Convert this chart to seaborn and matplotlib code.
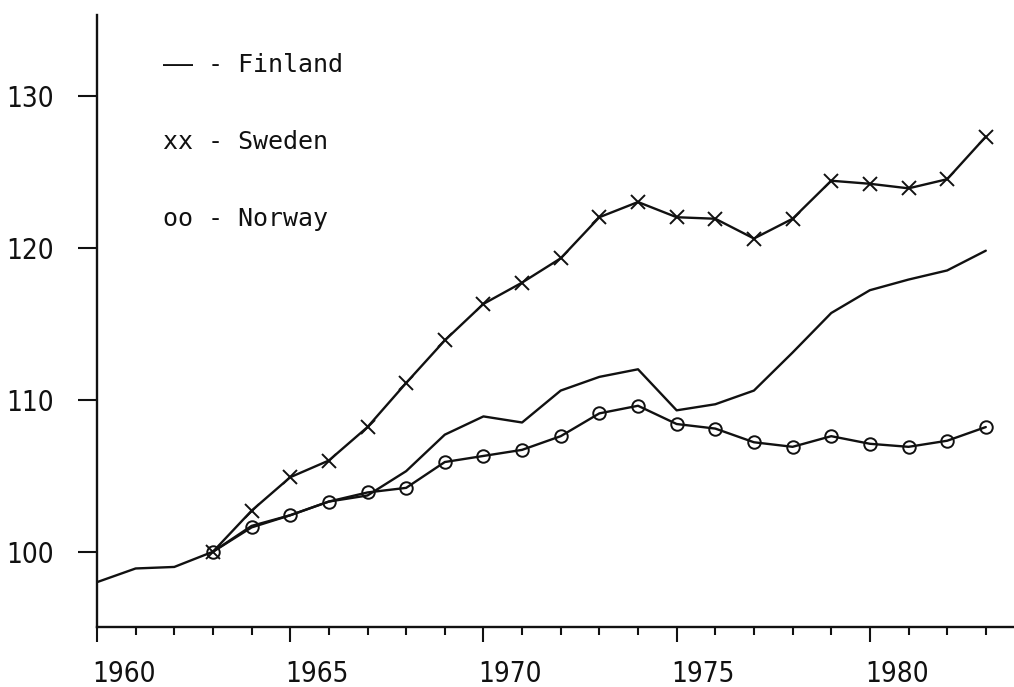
import numpy as np
import pandas as pd
import matplotlib
matplotlib.use("Agg")
import matplotlib.pyplot as plt
import matplotlib.transforms as mtransforms
from matplotlib import font_manager
from matplotlib.ticker import MultipleLocator
import seaborn as sns

# Index 1963 = 100
fin_years = list(range(1960, 1984))
finland = [98.0, 98.9, 99.0, 100.0, 101.7, 102.4, 103.3, 103.7, 105.3, 107.7, 108.9, 108.5,
           110.6, 111.5, 112.0, 109.3, 109.7, 110.6, 113.1, 115.7, 117.2, 117.9, 118.5, 119.8]

years = list(range(1963, 1984))
sweden = [100.0, 102.7, 104.9, 106.0, 108.2, 111.1, 113.9, 116.3, 117.7, 119.3, 122.0, 123.0,
          122.0, 121.9, 120.6, 121.9, 124.4, 124.2, 123.9, 124.5, 127.3]
norway = [100.0, 101.6, 102.4, 103.3, 103.9, 104.2, 105.9, 106.3, 106.7, 107.6, 109.1, 109.6,
          108.4, 108.1, 107.2, 106.9, 107.6, 107.1, 106.9, 107.3, 108.2]

legend_rows = ["\u2014\u2014 - Finland", "xx - Sweden", "oo - Norway"]

# narrow font for the tick numbers, if one is around
narrow = None
for f in font_manager.fontManager.ttflist:
    if "Narrow" in f.name or f.stretch in ("condensed", "semi-condensed", "extra-condensed"):
        if f.style == "normal" and f.weight in (400, "normal", "regular"):
            narrow = f.fname
            break
if narrow:
    tick_font = font_manager.FontProperties(fname=narrow, size=20)
else:
    tick_font = font_manager.FontProperties(family="Roboto", size=19)

sns.set_style("white")
plt.rcParams["font.family"] = ["Roboto", "DejaVu Sans"]

fig = plt.figure(figsize=(10.14, 6.87), dpi=100)
ax = fig.add_axes([97 / 1014, (687 - 626.7) / 687, 917 / 1014, 611.7 / 687])

ink = "#111111"
sns.lineplot(x=fin_years, y=finland, color=ink, linewidth=1.7, ax=ax)
sns.lineplot(x=years, y=sweden, color=ink, linewidth=1.7, marker="x", markersize=10,
             markeredgewidth=1.4, markeredgecolor=ink, ax=ax)
sns.lineplot(x=years, y=norway, color=ink, linewidth=1.7, marker="o", markersize=9,
             markeredgewidth=1.4, markeredgecolor=ink, markerfacecolor="none", ax=ax)

ax.set_xlim(1960, 1983.73)
ax.set_ylim(95.07, 135.3)
sns.despine(ax=ax)
for s in ("left", "bottom"):
    ax.spines[s].set_linewidth(1.7)
    ax.spines[s].set_color(ink)

ax.xaxis.set_major_locator(MultipleLocator(5))
ax.xaxis.set_minor_locator(MultipleLocator(1))
ax.set_yticks([100, 110, 120, 130])
ax.tick_params(axis="x", which="major", direction="out", length=11, width=1.5,
               color=ink, pad=13, labelcolor=ink, bottom=True)
ax.tick_params(axis="x", which="minor", direction="out", length=6, width=1.5,
               color=ink, bottom=True)
ax.tick_params(axis="y", which="major", direction="out", length=14, width=1.5,
               color=ink, pad=17, labelcolor=ink, left=True)
ax.set_xlabel("")
ax.set_ylabel("")

shift = mtransforms.ScaledTranslation(-5 / 100, 0, fig.dpi_scale_trans)
for lab in ax.get_xticklabels():
    lab.set_fontproperties(tick_font)
    lab.set_horizontalalignment("left")
    lab.set_transform(lab.get_transform() + shift)
for lab in ax.get_yticklabels():
    lab.set_fontproperties(tick_font)

for i, row in enumerate(legend_rows):
    fig.text(163 / 1014, 1 - (65 + i * 77) / 687, row, family="DejaVu Sans Mono",
             fontsize=18, color=ink, va="center", ha="left")

fig.savefig("out.png", dpi=100, facecolor="white")
